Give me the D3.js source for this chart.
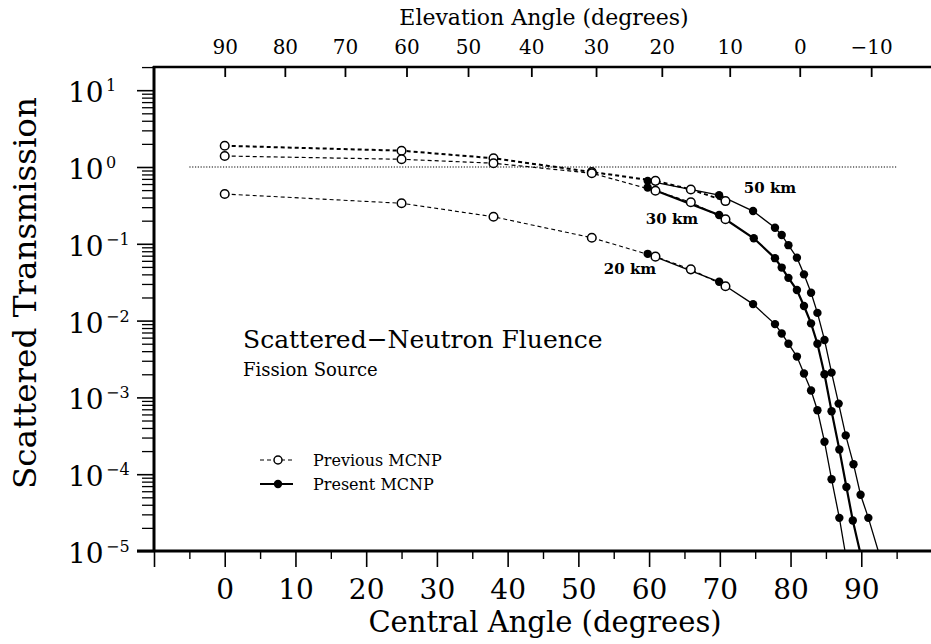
<!DOCTYPE html>
<html><head><meta charset="utf-8">
<script src="https://cdn.jsdelivr.net/npm/d3@7"></script>
<style>
html,body{margin:0;padding:0;background:#fff;}
svg{display:block;font-family:"DejaVu Serif",serif;}
</style></head>
<body><svg id="c" width="931" height="644"></svg>
<script>
// ---- data (central angle in degrees, scattered transmission) ----
const prevAngles   = [0, 25, 38, 51.9, 60.9, 65.9, 70.8];
const prev50       = [1.89, 1.63, 1.30, 0.86, 0.66, 0.51, 0.36];
const prev30       = [1.39, 1.26, 1.12, 0.83, 0.49, 0.347, 0.209];
const prev20       = [0.445, 0.337, 0.225, 0.120, 0.068, 0.0465, 0.028];

const pres50Angles = [59.8, 69.9, 74.7, 77.8, 78.75, 79.7, 80.9, 81.9, 82.9, 83.8, 84.8, 85.8, 86.8, 87.8, 88.9, 89.9, 91.0];
const pres50       = [0.66, 0.43, 0.267, 0.162, 0.130, 0.096, 0.066, 0.040, 0.023, 0.0126, 0.0056, 0.0021, 8.3e-4, 3.2e-4, 1.35e-4, 5.4e-5, 2.7e-5];
const pres30Angles = [59.8, 69.9, 74.8, 77.8, 78.75, 79.7, 80.9, 81.9, 82.9, 83.8, 84.8, 85.8, 86.9, 87.9, 88.8];
const pres30       = [0.54, 0.237, 0.118, 0.065, 0.049, 0.036, 0.025, 0.0155, 0.0092, 0.0050, 0.0020, 6.6e-4, 2.1e-4, 6.8e-5, 2.5e-5];
const pres20Angles = [59.8, 69.9, 74.7, 77.8, 78.75, 79.7, 80.9, 81.9, 82.9, 83.8, 84.8, 85.8, 86.9];
const pres20       = [0.074, 0.032, 0.0164, 0.0090, 0.0068, 0.0050, 0.0034, 0.00205, 0.00123, 6.8e-4, 2.65e-4, 8.6e-5, 2.7e-5];
// where each present-MCNP curve runs off the bottom of the frame
const presTailAngles = [92.4, 89.8, 87.7];   // 50, 30, 20 km
const presTailValue  = 1e-5;

const seriesNames   = ["50 km", "30 km", "20 km"];

// axis ticks
const centralTicks  = [-10, 0, 10, 20, 30, 40, 50, 60, 70, 80, 90];
const centralMinor  = [-5, 5, 15, 25, 35, 45, 55, 65, 75, 85, 95];
const elevLabels    = ["90", "80", "70", "60", "50", "40", "30", "20", "10", "0", "\u221210"];
const elevAtCentral = [0, 8.5, 17.0, 25.7, 34.4, 43.35, 52.5, 61.8, 71.4, 81.3, 91.4];
const decades       = [-5, -4, -3, -2, -1, 0, 1];

// ---- layout ----
const svg = d3.select("#c");
const L = 154, R = 932, T = 67, B = 551;
const x = d3.scaleLinear().domain([-10, 100]).range([L, R]);
const y = d3.scaleLog().domain([1e-5, Math.pow(10, 1.302)]).range([B, T]);

// clip
svg.append("defs").append("clipPath").attr("id","pc")
  .append("rect").attr("x", L).attr("y", T).attr("width", R - L).attr("height", B - T);

// left axis ticks (outward)
const minorY = [];
decades.forEach(k => { for (let m = 2; m <= 9; m++) { const v = m * Math.pow(10, k); if (v <= y.domain()[1]) minorY.push(v); } });
const majY = decades.map(k => Math.pow(10, k));
svg.append("g").attr("transform", `translate(${L},0)`)
  .call(d3.axisLeft(y).tickValues(majY).tickSize(17).tickFormat(""))
  .call(g => { g.select(".domain").remove(); g.selectAll("line").attr("stroke-width", 1.6); });
svg.append("g").attr("transform", `translate(${L},0)`)
  .call(d3.axisLeft(y).tickValues(minorY).tickSize(12).tickFormat(""))
  .call(g => { g.select(".domain").remove(); g.selectAll("line").attr("stroke-width", 1.3); });

// left labels 10^k
const yl = svg.append("g");
decades.forEach(k => {
  const yy = y(Math.pow(10, k));
  yl.append("text").attr("x", 68).attr("y", yy + 12).attr("font-size", 28).text("10");
  yl.append("text").attr("x", 106).attr("y", yy + 1).attr("font-size", 16)
    .text(k < 0 ? "\u2212" + (-k) : String(k));
});

// bottom axis ticks (outward)
svg.append("g").attr("transform", `translate(0,${B})`)
  .call(d3.axisBottom(x).tickValues(centralTicks).tickSize(16).tickPadding(12).tickFormat(d => d < 0 ? "" : d))
  .call(g => { g.select(".domain").remove();
               g.selectAll("line").attr("stroke-width", 1.6);
               g.selectAll("text").attr("font-size", 28).attr("font-family", "DejaVu Serif").attr("fill", "#000"); });
svg.append("g").attr("transform", `translate(0,${B})`)
  .call(d3.axisBottom(x).tickValues(centralMinor).tickSize(8).tickFormat(""))
  .call(g => { g.select(".domain").remove(); g.selectAll("line").attr("stroke-width", 1.4); });

// top axis (elevation), ticks inward
svg.append("g").attr("transform", `translate(0,${T})`)
  .call(d3.axisTop(x).tickValues(elevAtCentral).tickSizeInner(-10).tickSizeOuter(0).tickPadding(13)
        .tickFormat((d, i) => elevLabels[i]))
  .call(g => { g.select(".domain").remove();
               g.selectAll("line").attr("stroke-width", 1.8);
               g.selectAll("text").attr("font-size", 20).attr("font-family", "DejaVu Serif").attr("fill", "#000"); });

// frame lines
svg.append("line").attr("x1", L).attr("x2", L).attr("y1", T - 1).attr("y2", B + 1).attr("stroke", "#000").attr("stroke-width", 3);
svg.append("line").attr("x1", L - 1).attr("x2", 931).attr("y1", T).attr("y2", T).attr("stroke", "#000").attr("stroke-width", 2.5);
svg.append("line").attr("x1", 137).attr("x2", 931).attr("y1", B).attr("y2", B).attr("stroke", "#000").attr("stroke-width", 3);

// axis titles
svg.append("text").attr("x", 544).attr("y", 25).attr("text-anchor", "middle").attr("font-size", 22).text("Elevation Angle (degrees)");
svg.append("text").attr("x", 545).attr("y", 632).attr("text-anchor", "middle").attr("font-size", 29).text("Central Angle (degrees)");
svg.append("text").attr("transform", "translate(36,293) rotate(-90)").attr("text-anchor", "middle")
  .attr("font-size", 31).attr("textLength", 392).attr("lengthAdjust", "spacingAndGlyphs").text("Scattered Transmission");

// plot content
const plot = svg.append("g").attr("clip-path", "url(#pc)");

// reference line at 1
plot.append("line").attr("x1", x(-5)).attr("x2", x(95)).attr("y1", y(1)).attr("y2", y(1))
  .attr("stroke", "#000").attr("stroke-width", 1.2).attr("stroke-dasharray", "1.2,1.6");

const line = d3.line().x(d => x(d[0])).y(d => y(d[1]));
const zipv = (a, b) => a.map((v, i) => [v, b[i]]);

const prevSets = [prev50, prev30, prev20].map(s => zipv(prevAngles, s));
const presSets = [
  zipv(pres50Angles, pres50),
  zipv(pres30Angles, pres30),
  zipv(pres20Angles, pres20)
];
const prevW = [2, 1.2, 1.1];
const presW = [1.3, 2.2, 1.3];

prevSets.forEach((s, i) => {
  plot.append("path").attr("d", line(s)).attr("fill", "none").attr("stroke", "#000")
    .attr("stroke-width", prevW[i]).attr("stroke-dasharray", "4,3");
});
presSets.forEach((s, i) => {
  const full = s.concat([[presTailAngles[i], presTailValue]]);
  plot.append("path").attr("d", line(full)).attr("fill", "none").attr("stroke", "#000")
    .attr("stroke-width", presW[i]);
});
presSets.forEach(s => {
  plot.selectAll(null).data(s).enter().append("circle")
    .attr("cx", d => x(d[0])).attr("cy", d => y(d[1])).attr("r", 4.2).attr("fill", "#000");
});
prevSets.forEach(s => {
  plot.selectAll(null).data(s).enter().append("circle")
    .attr("cx", d => x(d[0])).attr("cy", d => y(d[1])).attr("r", 4.3)
    .attr("fill", "#fff").attr("stroke", "#000").attr("stroke-width", 1.5);
});

// series labels
const labelPos = [[770, 193], [672, 224], [630, 274]];
seriesNames.forEach((n, i) => {
  svg.append("text").attr("x", labelPos[i][0]).attr("y", labelPos[i][1]).attr("text-anchor", "middle")
    .attr("font-size", 15).attr("font-weight", "bold").text(n);
});

// annotation
svg.append("text").attr("x", 243).attr("y", 348).attr("font-size", 25).text("Scattered\u2212Neutron Fluence");
svg.append("text").attr("x", 243).attr("y", 376).attr("font-size", 18).text("Fission Source");

// legend
const lg = svg.append("g");
lg.append("line").attr("x1", 260).attr("x2", 293).attr("y1", 460).attr("y2", 460)
  .attr("stroke", "#000").attr("stroke-width", 1.2).attr("stroke-dasharray", "4,3");
lg.append("circle").attr("cx", 278).attr("cy", 460).attr("r", 4).attr("fill", "#fff").attr("stroke", "#000").attr("stroke-width", 1.5);
lg.append("text").attr("x", 313).attr("y", 466).attr("font-size", 16).text("Previous MCNP");
lg.append("line").attr("x1", 260).attr("x2", 293).attr("y1", 484).attr("y2", 484)
  .attr("stroke", "#000").attr("stroke-width", 2.2);
lg.append("circle").attr("cx", 278).attr("cy", 484).attr("r", 4.2).attr("fill", "#000");
lg.append("text").attr("x", 313).attr("y", 490).attr("font-size", 16).text("Present MCNP");
</script></body></html>
